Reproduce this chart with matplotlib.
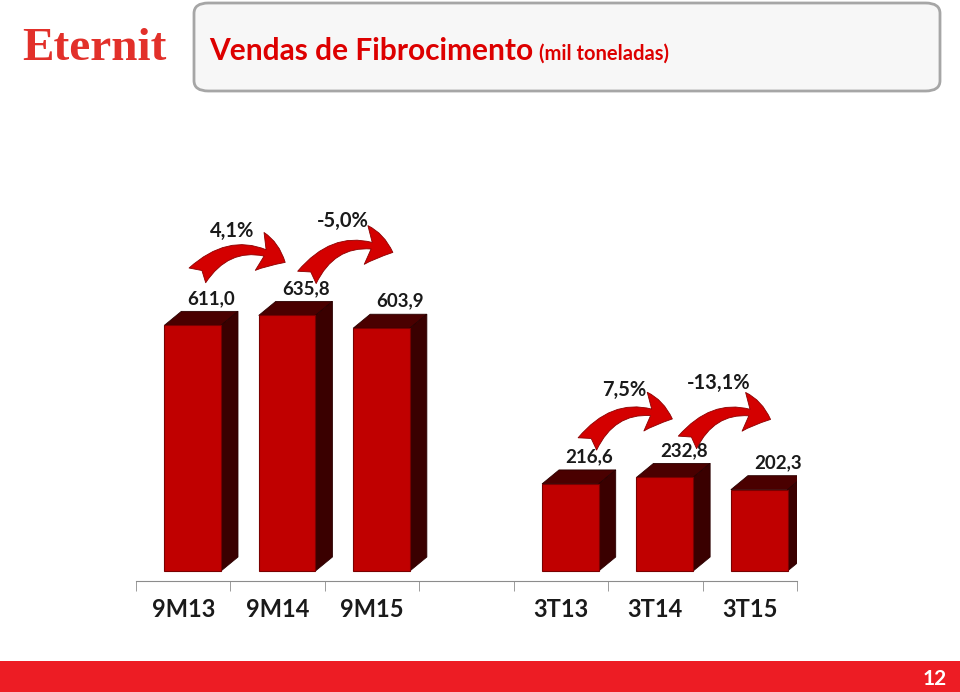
import matplotlib.pyplot as plt
import matplotlib.transforms as mtransforms
from matplotlib.patches import Polygon, Rectangle, FancyBboxPatch

categories = ["9M13", "9M14", "9M15", "", "3T13", "3T14", "3T15"]
values = [611.0, 635.8, 603.9, None, 216.6, 232.8, 202.3]
growth_labels = ["4,1%", "-5,0%", "7,5%", "-13,1%"]
growth_pairs = [(0, 1), (1, 2), (4, 5), (5, 6)]

W, H = 960, 692
FONT = "Lato"


def fx(px):
    return px / W


def fy(py):
    return 1 - py / H


def main():
    fig = plt.figure(figsize=(9.6, 6.92), dpi=100)

    # header box + logo
    fig.patches.append(FancyBboxPatch((fx(194), fy(91)), fx(746), 88 / H,
                                      boxstyle="round,pad=0,rounding_size=0.015",
                                      transform=fig.transFigure, fc="#F7F7F7",
                                      ec="#A6A6A6", lw=2))
    fig.text(fx(22), fy(49), "Eternit", family="Liberation Serif", weight="bold",
             size=34, color="#E2302A", va="center", ha="left")
    t = fig.text(fx(209), fy(60), "Vendas de Fibrocimento", family=FONT,
                 weight="bold", size=21.5, color="#DD0000", va="baseline")
    fig.canvas.draw()
    bb = t.get_window_extent()
    fig.text(bb.x1 / W + fx(6), fy(60), "(mil toneladas)", family=FONT,
             weight="bold", size=14.5, color="#DD0000", va="baseline")

    # footer band
    fig.patches.append(Rectangle((0, 0), 1, 31 / H, transform=fig.transFigure,
                                 fc="#ED1C24", ec="none"))
    fig.text(fx(935), fy(679), "12", family=FONT, weight="bold", size=15,
             color="white", ha="center", va="center")

    # chart
    px_per_unit = 0.402
    ax = fig.add_axes([fx(136), fy(581), fx(661), (581 - 200) / H])
    ax.set_xlim(-0.5, 6.5)
    ax.set_ylim(-10 / px_per_unit, (571 - 200) / px_per_unit)

    width = 0.60
    shift = 0.10
    ddx = 17 / 94.4
    ddy = 14 / px_per_unit
    for i, v in enumerate(values):
        if v is None:
            continue
        xl = i + shift - width / 2
        xr = xl + width
        ax.add_patch(Polygon([(xl, v), (xl + ddx, v + ddy), (xr + ddx, v + ddy), (xr, v)],
                             closed=True, fc="#4A0000", ec="#2A0000", lw=0.6, zorder=2))
        ax.add_patch(Polygon([(xr, 0), (xr + ddx, ddy), (xr + ddx, v + ddy), (xr, v)],
                             closed=True, fc="#3A0000", ec="#2A0000", lw=0.6, zorder=2))
        ax.bar(i + shift, v, width=width, color="#C00000", edgecolor="#7A0000",
               lw=0.8, zorder=3)
        ax.annotate(f"{v:.1f}".replace(".", ","), xy=(i + shift + 0.2, v),
                    xytext=(0, 27), textcoords="offset pixels",
                    ha="center", va="center", family=FONT, weight="bold",
                    size=13.5, color="#1A1A1A")

    # growth arrows and labels
    tail_x = [0.15, 1.31, 4.28, 5.34]
    tail_dy = [50, 38, 40, 35]
    tip_x = [1.08, 2.22, 5.18, 6.22]
    tip_dy = [63, 63, 65, 58]
    lab_x = [0.52, 1.69, 4.67, 5.67]
    for k, (a, b) in enumerate(growth_pairs):
        va_ = values[a]
        tr_tail = mtransforms.offset_copy(ax.transData, fig, x=0, y=tail_dy[k], units="dots")
        tr_tip = mtransforms.offset_copy(ax.transData, fig, x=0, y=tip_dy[k], units="dots")
        ax.annotate("", xy=(tip_x[k], va_), xycoords=tr_tip,
                    xytext=(tail_x[k], va_), textcoords=tr_tail,
                    arrowprops=dict(arrowstyle="fancy,head_length=1.0,head_width=1.4,tail_width=0.8",
                                    connectionstyle="arc3,rad=-0.42",
                                    fc="#D40000", ec="#8B0000", lw=0.6,
                                    mutation_scale=20, shrinkA=0, shrinkB=0),
                    annotation_clip=False)
        ax.annotate(growth_labels[k], xy=(lab_x[k], va_), xytext=(0, 94),
                    textcoords="offset pixels", ha="center", va="center",
                    family=FONT, weight="bold", size=14.5, color="#1A1A1A")

    # axis
    for s in ["left", "right", "top"]:
        ax.spines[s].set_visible(False)
    ax.spines["bottom"].set_color("#8C8C8C")
    ax.set_yticks([])
    ax.set_xticks(range(len(categories)))
    ax.set_xticklabels(categories, family=FONT, weight="bold", size=17,
                       color="#1A1A1A")
    ax.tick_params(axis="x", which="major", length=0, pad=12)
    ax.set_xticks([i - 0.5 for i in range(len(categories) + 1)], minor=True)
    ax.tick_params(axis="x", which="minor", length=7, color="#8C8C8C")

    fig.savefig("out.png", dpi=100)


if __name__ == "__main__":
    main()
